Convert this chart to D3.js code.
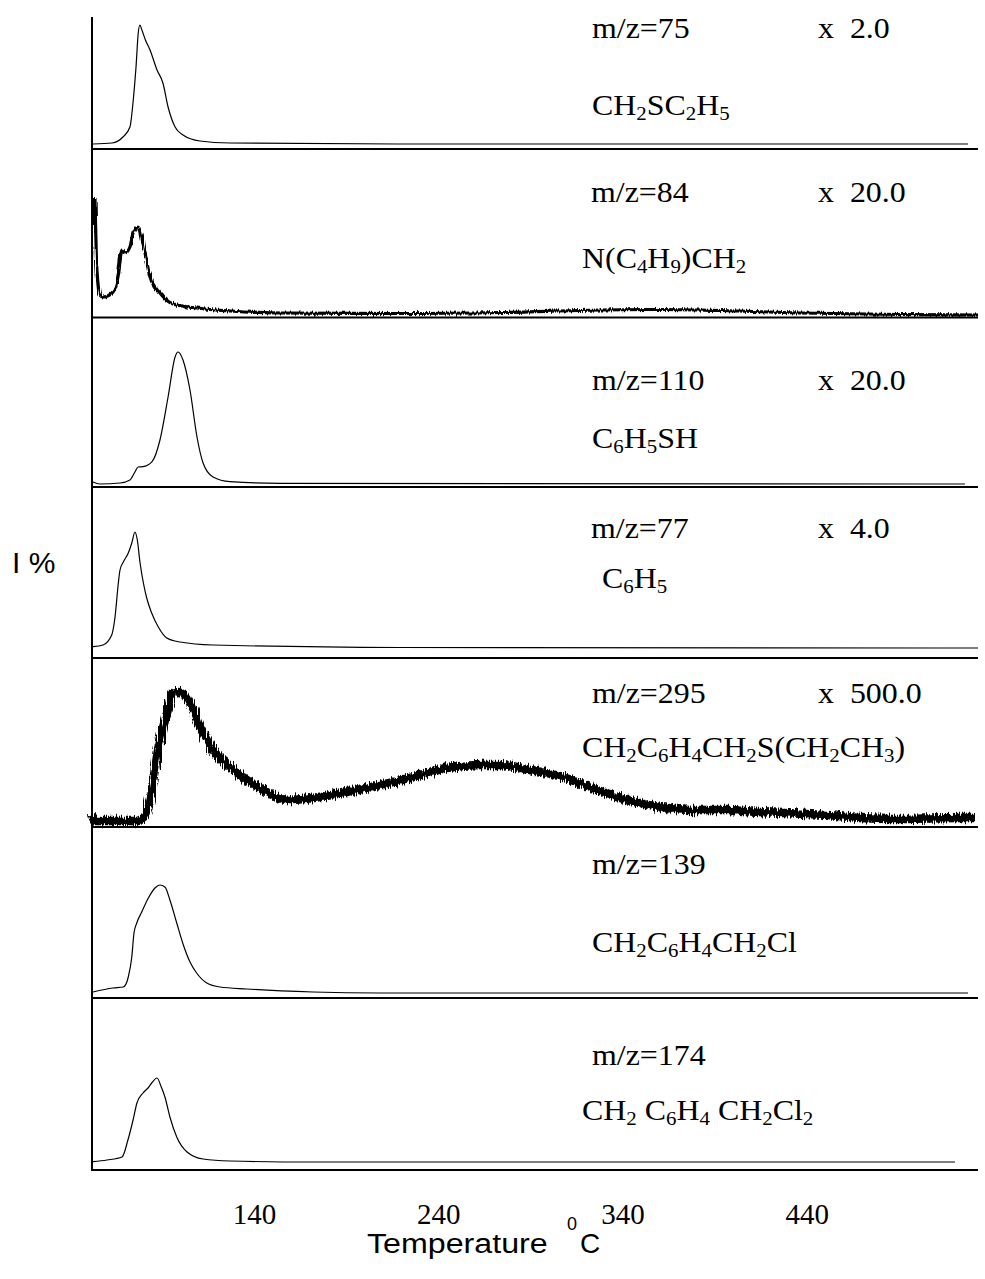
<!DOCTYPE html>
<html>
<head>
<meta charset="utf-8">
<script src="https://cdn.jsdelivr.net/npm/d3@7"></script>
<style>
  body { margin: 0; background: #fff; }
  svg { display: block; }
  text { white-space: pre; }
</style>
</head>
<body>
<svg id="chart" width="985" height="1279"></svg>
<script>
// Temperature axis ticks (°C)
const tempTicks = [140, 240, 340, 440];

// Ion, gain factor and fragment formula of each trace, top to bottom
const ionLabels = ["m/z=75", "m/z=84", "m/z=110", "m/z=77", "m/z=295", "m/z=139", "m/z=174"];
const gainLabels = ["x  2.0", "x  20.0", "x  20.0", "x  4.0", "x  500.0", "", ""];
const fragments = ["CH2SC2H5", "N(C4H9)CH2", "C6H5SH", "C6H5",
                   "CH2C6H4CH2S(CH2CH3)", "CH2C6H4CH2Cl", "CH2 C6H4 CH2Cl2"];

// Ion currents: [temperature °C, intensity a.u.]
const mz75 = [[52.5,0],[62.9,1],[68.8,7],[72.6,17],[74.4,44],[75.9,77],[77.1,111],[78,119],
  [79.1,114],[81,104],[83.5,94],[87.3,74],[90.5,61],[93.3,37],[97.1,17],[101.4,9],
  [110.6,3],[126.9,1],[219,0],[527.6,0]];

const mz84 = [[53.6,117],[54.7,45],[56.3,20],[58,18],[63.4,23],[66.1,38],[68.3,65],[69.9,62],
  [72.6,68],[74.3,82],[77,88],[80.8,62],[83.5,38],[88.9,22],[96,11],[109,7],[126.9,4],
  [154.1,2],[219.2,1.5],[273.5,2.5],[327.8,5],[360.4,5.5],[392.9,4.5],[436.4,2],
  [490.6,0.5],[533,0]];

const mz110 = [[52.5,2],[56.3,0],[67.2,1],[72.6,4],[75.3,12],[77,17],[79.7,17.3],[84.6,22.3],
  [88.9,44],[93.3,87],[97.1,127],[98.7,132],[101.4,124],[105.2,94],[109,47],[112.3,21],
  [117.7,7],[126.9,2.3],[154.1,0.7],[525.9,0]];

const mz77 = [[52.5,1.3],[58,3],[62.7,13],[64.5,31],[66.3,65],[67.2,78],[69,86],[71.7,95],
  [73.6,105],[75.3,116],[76.6,108],[78.1,85],[79.9,65],[81.7,50],[84.4,35],[88,21],
  [92.6,10],[99.8,6],[117.7,3],[219.2,0.5],[533,0]];

const mz295 = [[52,7],[53.6,1],[76.4,1],[80.8,7],[84.6,35],[87.8,72],[92.7,109],[96,129],
  [99.8,130],[105.2,119],[110.6,95],[117.7,72],[126.9,55],[136.1,42],[144.8,32],[157.9,22],
  [172,24],[190.4,30],[208.4,37],[226.3,45],[244.7,54],[262.6,57],[273.5,57],[289.8,52],
  [307.7,45],[324,34],[342.4,22],[360.4,15],[378.3,12],[396.7,12],[414.6,10],[451,7],
  [468.9,4],[486.9,3],[523.2,4],[531.4,4]];

const mz139 = [[52.5,1],[63.4,5],[69,6],[71.7,16],[73.6,36],[74.8,60],[76.3,70],[79,81],
  [82.6,95],[86.2,105],[88.9,108],[91.6,106],[94.3,93],[98,70],[101.6,48],[105.2,31],
  [108.8,20],[114.3,10],[121.5,6],[136,4],[172,1],[208.4,0],[527.6,0]];

const mz174 = [[52.5,0.3],[60.1,2],[68.3,5],[71.5,22],[74.3,42],[76.4,59],[79.7,69],[82.4,74],
  [84.4,79],[87.3,84],[89.6,75],[91.6,65],[94.3,45],[98,25],[103.6,10],[112.3,3],
  [126.9,1],[172,0],[520.5,0]];

const traces = [mz75, mz84, mz110, mz77, mz295, mz139, mz174];

// ---- layout ----
const plotLeft = 92, plotRight = 978, plotTop = 17;
const traceBase = [144, 315, 484, 648, 822, 993, 1162];   // zero-intensity level of each trace
const panelFloor = [149, 317.5, 487, 658, 827, 998, 1170]; // ruled line under each trace
const traceWidth = [1.2, 3.2, 1.2, 1.2, 8.5, 1.2, 1.2];
const traceGrain = [null, "grainFine", null, null, "grainCoarse", null, null];
const ionPos  = [[592,38],[591,202],[592,390],[591,538],[592,703],[592,874],[592,1065]];
const gainX = 818;
const fragPos = [[592,115],[582,268],[592,448],[602,588],[582,757],[592,952],[582,1120]];
const serif = "'Liberation Serif', 'Times New Roman', serif";
const sans = "'Liberation Sans', Arial, Helvetica, sans-serif";

const svg = d3.select("#chart");

// detector-noise texture for the low-signal traces
const defs = svg.append("defs");
[["grainFine", 4.5], ["grainCoarse", 10]].forEach(([id, amount]) => {
  const f = defs.append("filter").attr("id", id)
    .attr("x", "-2%").attr("y", "-30%").attr("width", "104%").attr("height", "160%");
  f.append("feTurbulence").attr("type", "fractalNoise")
    .attr("baseFrequency", "0.9 0.04").attr("numOctaves", 2).attr("seed", 7).attr("result", "n");
  f.append("feDisplacementMap").attr("in", "SourceGraphic").attr("in2", "n")
    .attr("scale", amount).attr("xChannelSelector", "G").attr("yChannelSelector", "R");
});

const x = d3.scaleLinear().domain([52, 533]).range([plotLeft, plotRight]);

const line = d3.line().curve(d3.curveMonotoneX);

traces.forEach((data, i) => {
  const y = d3.scaleLinear().domain([0, 140]).range([traceBase[i], traceBase[i] - 140]);
  line.x(d => x(d[0])).y(d => y(d[1]));

  const p = svg.append("path")
    .datum(data)
    .attr("d", line)
    .attr("fill", "none")
    .attr("stroke", "#000")
    .attr("stroke-width", traceWidth[i])
    .attr("stroke-linejoin", "round");
  if (traceGrain[i]) p.attr("filter", `url(#${traceGrain[i]})`);

  // ruled floor line of the panel
  svg.append("line")
    .attr("x1", plotLeft).attr("x2", plotRight)
    .attr("y1", panelFloor[i]).attr("y2", panelFloor[i])
    .attr("stroke", "#000").attr("stroke-width", 2.2);

  // ion label
  svg.append("text")
    .attr("transform", `translate(${ionPos[i][0]},${ionPos[i][1]}) scale(1.1,1)`)
    .attr("font-family", serif).attr("font-size", 29)
    .text(ionLabels[i]);

  if (gainLabels[i]) {
    svg.append("text")
      .attr("transform", `translate(${gainX},${ionPos[i][1]}) scale(1.1,1)`)
      .attr("font-family", serif).attr("font-size", 29)
      .text(gainLabels[i]);
  }

  // fragment formula with subscript digits
  const t = svg.append("text")
    .attr("transform", `translate(${fragPos[i][0]},${fragPos[i][1]}) scale(1.1,1)`)
    .attr("font-family", serif).attr("font-size", 29);
  const parts = fragments[i].match(/\d+|[^\d]+/g);
  let shifted = false;
  parts.forEach(part => {
    const ts = t.append("tspan").text(part);
    if (/\d/.test(part)) {
      ts.attr("font-size", 19).attr("dy", shifted ? 0 : 5);
      shifted = true;
    } else if (shifted) {
      ts.attr("dy", -5);
      shifted = false;
    }
  });
});

// left axis line
svg.append("line")
  .attr("x1", plotLeft).attr("x2", plotLeft)
  .attr("y1", plotTop).attr("y2", panelFloor[panelFloor.length - 1] + 1)
  .attr("stroke", "#000").attr("stroke-width", 2);

// temperature axis labels
const xAxis = d3.axisBottom(x).tickValues(tempTicks).tickSize(0).tickPadding(33);
const gx = svg.append("g")
  .attr("transform", `translate(0,${panelFloor[panelFloor.length - 1]})`)
  .call(xAxis);
gx.select(".domain").remove();
gx.selectAll("text")
  .attr("font-family", serif).attr("font-size", 29).attr("fill", "#000");

// axis titles
svg.append("text")
  .attr("transform", "translate(367,1253) scale(1.15,1)")
  .attr("font-family", sans).attr("font-size", 28)
  .text("Temperature");
svg.append("text")
  .attr("x", 567).attr("y", 1230)
  .attr("font-family", sans).attr("font-size", 18)
  .text("0");
svg.append("text")
  .attr("x", 580).attr("y", 1253)
  .attr("font-family", sans).attr("font-size", 28)
  .text("C");

svg.append("text")
  .attr("x", 12).attr("y", 573)
  .attr("font-family", sans).attr("font-size", 30)
  .text("I %");
</script>
</body>
</html>
